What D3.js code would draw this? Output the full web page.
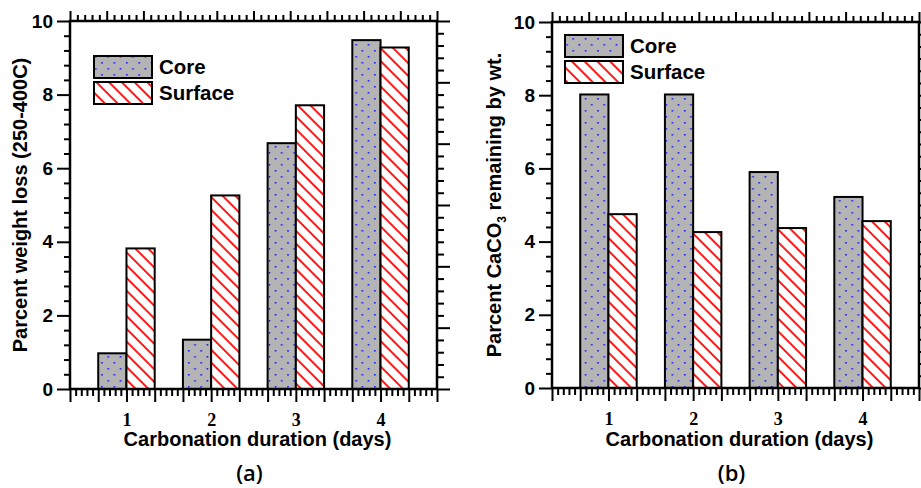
<!DOCTYPE html>
<html>
<head>
<meta charset="utf-8">
<script src="https://cdn.jsdelivr.net/npm/d3@7"></script>
<style>
  body { margin: 0; background: #fff; }
  svg text { fill: #000; }
</style>
</head>
<body>
<div class="entries"></div>
<script>
var days = [1, 2, 3, 4];
var seriesNames = ["Core", "Surface"];
var lossCore = [0.97, 1.34, 6.68, 9.48];
var lossSurface = [3.82, 5.26, 7.71, 9.28];
var caco3Core = [8.02, 8.02, 5.90, 5.22];
var caco3Surface = [4.75, 4.26, 4.37, 4.56];
var yTicks = [0, 2, 4, 6, 8, 10];

var w = 921, h = 488;
var sans = "'Liberation Sans', Arial, sans-serif";
var vis = d3.select(".entries").append("svg")
    .attr("width", w)
    .attr("height", h);

var defs = vis.append("defs");
var dots = defs.append("pattern").attr("id", "dots")
    .attr("patternUnits", "userSpaceOnUse")
    .attr("width", 12.4).attr("height", 12);
dots.append("rect").attr("width", 12.4).attr("height", 12).attr("fill", "#b4b4b4");
dots.append("rect").attr("x", 2).attr("y", 2).attr("width", 1.6).attr("height", 1.6).attr("fill", "#1a1aff");
dots.append("rect").attr("x", 8.2).attr("y", 8).attr("width", 1.6).attr("height", 1.6).attr("fill", "#1a1aff");

var stripes = defs.append("pattern").attr("id", "stripes")
    .attr("patternUnits", "userSpaceOnUse")
    .attr("width", 9).attr("height", 9)
    .attr("patternTransform", "rotate(-45)");
stripes.append("rect").attr("width", 9).attr("height", 9).attr("fill", "#fff");
stripes.append("rect").attr("x", 0).attr("width", 2).attr("height", 9).attr("fill", "#ff1a1a");

var fills = {"Core": "url(#dots)", "Surface": "url(#stripes)"};

function panel(opt) {
  var g = vis.append("g");
  var x = d3.scaleLinear().domain([1/3, 14/3]).range([opt.x0, opt.x1]);
  var y = d3.scaleLinear().domain([0, 10]).range([opt.y1, opt.y0]);
  var xTop = d3.scaleLinear().domain([0, 10]).range([opt.x0, opt.x1]);
  var yRight = d3.scaleLinear().domain([0, 6]).range([opt.y1, opt.y0]);

  // bars
  var rows = days.map(function(d, i) {
    return [{day: d, name: "Core", v: opt.core[i], off: -1/3},
            {day: d, name: "Surface", v: opt.surface[i], off: 0}];
  });
  rows = [].concat.apply([], rows);
  g.selectAll("rect.bar").data(rows).enter().append("rect")
    .attr("class", "bar")
    .attr("x", function(d) { return x(d.day + d.off); })
    .attr("width", function(d) { return x(d.day + d.off + 1/3) - x(d.day + d.off); })
    .attr("y", function(d) { return y(d.v); })
    .attr("height", function(d) { return y(0) - y(d.v); })
    .attr("fill", function(d) { return fills[d.name]; })
    .attr("stroke", "#000").attr("stroke-width", 2);

  function tidy(sel, width) {
    sel.select(".domain").remove();
    sel.selectAll(".tick line").attr("stroke", "#000").attr("stroke-width", width || 2);
  }

  // left
  var leftMinor = d3.range(0, 10.01, 0.4).filter(function(v) { return Math.abs(v / 2 - Math.round(v / 2)) > 1e-6; });
  g.append("g").attr("transform", "translate(" + opt.x0 + ",0)")
    .call(d3.axisLeft(y).tickValues(leftMinor).tickSize(6).tickFormat(""))
    .call(tidy);
  g.append("g").attr("transform", "translate(" + opt.x0 + ",0)")
    .call(d3.axisLeft(y).tickValues(yTicks).tickSize(13).tickPadding(4).tickFormat(d3.format("d")))
    .call(tidy)
    .selectAll("text")
    .attr("font-family", sans)
    .attr("font-weight", "bold").attr("font-size", 19);

  // bottom
  var bottomMajor = d3.range(1, 15).map(function(k) { return k / 3; });
  var bottomMinor = d3.range(5, 71).filter(function(k) { return k % 5 != 0; }).map(function(k) { return k / 15; });
  g.append("g").attr("transform", "translate(0," + opt.y1 + ")")
    .call(d3.axisBottom(x).tickValues(bottomMinor).tickSize(7).tickFormat(""))
    .call(tidy);
  g.append("g").attr("transform", "translate(0," + opt.y1 + ")")
    .call(d3.axisBottom(x).tickValues(bottomMajor).tickSize(13).tickPadding(11)
      .tickFormat(function(d) { return Math.abs(d - Math.round(d)) < 1e-9 ? Math.round(d) : ""; }))
    .call(tidy)
    .selectAll("text")
    .attr("font-family", "'Liberation Serif', 'Times New Roman', serif")
    .attr("font-weight", "bold").attr("font-size", 18);

  // top
  var topMinor = d3.range(0, 51).filter(function(k) { return k % 5 != 0; }).map(function(k) { return k / 5; });
  g.append("g").attr("transform", "translate(0," + opt.y0 + ")")
    .call(d3.axisTop(xTop).tickValues(topMinor).tickSize(6).tickFormat(""))
    .call(tidy);
  g.append("g").attr("transform", "translate(0," + opt.y0 + ")")
    .call(d3.axisTop(xTop).tickValues(d3.range(0, 11)).tickSize(10).tickFormat(""))
    .call(tidy);

  // right
  var rightMinor = d3.range(0, 31).filter(function(k) { return k % 5 != 0; }).map(function(k) { return k / 5; });
  g.append("g").attr("transform", "translate(" + opt.x1 + ",0)")
    .call(d3.axisRight(yRight).tickValues(rightMinor).tickSize(7).tickFormat(""))
    .call(tidy);
  g.append("g").attr("transform", "translate(" + opt.x1 + ",0)")
    .call(d3.axisRight(yRight).tickValues(d3.range(0, 7)).tickSize(13).tickFormat(""))
    .call(tidy);

  // frame
  g.append("rect")
    .attr("x", opt.x0).attr("y", opt.y0)
    .attr("width", opt.x1 - opt.x0).attr("height", opt.y1 - opt.y0)
    .attr("fill", "none").attr("stroke", "#000").attr("stroke-width", 2.5);

  // legend
  var lg = g.append("g");
  seriesNames.forEach(function(name, i) {
    var top = opt.legY + i * 26;
    lg.append("rect").attr("x", opt.legX).attr("y", top)
      .attr("width", 58).attr("height", 22)
      .attr("fill", fills[name]).attr("stroke", "#000").attr("stroke-width", 2);
    lg.append("text").attr("x", opt.legX + 65).attr("y", top + 18)
      .attr("font-family", sans)
      .attr("font-weight", "bold").attr("font-size", 20.5)
      .text(name);
  });

  // axis titles
  g.append("text")
    .attr("x", (opt.x0 + opt.x1) / 2 + 4).attr("y", 446)
    .attr("text-anchor", "middle")
    .attr("font-family", sans)
    .attr("font-weight", "bold").attr("font-size", 20)
    .text("Carbonation duration (days)");

  var yt = g.append("text")
    .attr("transform", "translate(" + opt.yLabX + "," + ((opt.y0 + opt.y1) / 2) + ") rotate(-90)")
    .attr("text-anchor", "middle")
    .attr("font-family", sans)
    .attr("font-weight", "bold").attr("font-size", 20);
  opt.yLabel(yt);

  g.append("text")
    .attr("x", (opt.x0 + opt.x1) / 2 - 4).attr("y", 481)
    .attr("text-anchor", "middle")
    .attr("font-family", "'Open Sans', sans-serif")
    .attr("font-weight", 600).attr("font-size", 22)
    .text(opt.tag);
}

panel({
  x0: 70, x1: 437, y0: 21, y1: 389,
  core: lossCore, surface: lossSurface,
  legX: 94, legY: 56,
  yLabX: 27,
  tag: "(a)",
  yLabel: function(t) { t.text("Parcent weight loss (250-400C)"); }
});

panel({
  x0: 552, x1: 919, y0: 22, y1: 388,
  core: caco3Core, surface: caco3Surface,
  legX: 565, legY: 35,
  yLabX: 501,
  tag: "(b)",
  yLabel: function(t) {
    t.append("tspan").text("Parcent CaCO");
    t.append("tspan").attr("font-size", 12).attr("dy", 5).text("3");
    t.append("tspan").attr("dy", -5).text(" remaining by wt.");
  }
});
</script>
</body>
</html>
